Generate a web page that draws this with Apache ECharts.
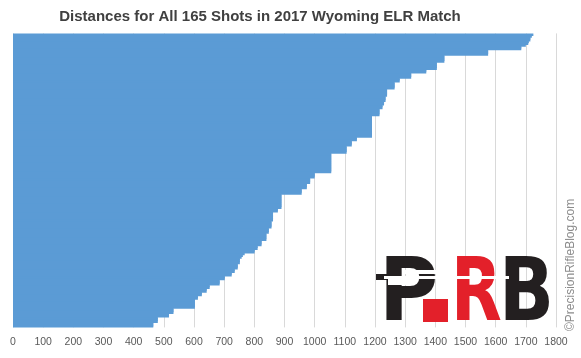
<!DOCTYPE html>
<html>
<head>
<meta charset="utf-8">
<script src="https://cdn.jsdelivr.net/npm/echarts@6/dist/echarts.min.js"></script>
<style>
html,body{margin:0;padding:0;background:#fff;}
#c{width:581px;height:358px;}
</style>
</head>
<body>
<div id="c"></div>
<script>
// Distances (yards) for each shot, listed top (longest) to bottom (shortest)
var distances = [
  1725,1720,1715,1715,1710,1708,1700,1685,1685,
  1575,1575,1575,
  1430,1430,1430,1430,
  1405,1405,1405,1405,
  1370,1370,
  1320,1320,1320,
  1282,1282,
  1265,1265,1265,1265,
  1240,1240,1240,1240,1235,1235,1235,1230,1230,1225,1225,
  1215,1215,1215,1215,
  1190,1190,1190,1190,1190,1190,1190,1190,1190,1190,1190,1190,
  1140,1140,
  1123,1123,1123,
  1106,1106,1106,1106,
  1055,1055,1055,1055,1055,1055,1055,1055,1055,1055,1055,
  1000,1000,1000,
  985,985,985,
  974,974,974,
  957,957,957,
  890,890,890,890,890,890,890,890,
  878,878,
  862,862,862,862,862,857,857,857,857,
  848,848,848,
  840,840,840,840,
  824,824,824,
  811,811,
  801,801,
  768,762,758,
  752,752,752,
  745,745,745,
  735,735,
  725,725,
  702,702,
  685,685,685,
  652,652,
  642,642,
  626,626,
  613,613,
  603,603,603,603,603,
  532,532,532,
  517,517,
  480,480,480,
  465,465,465
];
var shots = distances.map(function (_, i) { return 'Shot ' + (i + 1); });
var xTicks = [0,100,200,300,400,500,600,700,800,900,1000,1100,1200,1300,1400,1500,1600,1700,1800];
var titleText = 'Distances for All 165 Shots in 2017 Wyoming ELR Match';
var watermark = '\u00A9PrecisionRifleBlog.com';

var chart = echarts.init(document.getElementById('c'), null, {renderer: 'canvas'});
var font = "'Liberation Sans', sans-serif";
chart.setOption({
  animation: false,
  backgroundColor: '#ffffff',
  title: {
    text: titleText,
    left: 260,
    textAlign: 'center',
    top: 9,
    padding: 0,
    textStyle: {fontFamily: font, fontSize: 15, fontWeight: 'bold', color: '#404040'}
  },
  grid: {left: 13, right: 25, top: 33.4, bottom: 30.6, containLabel: false},
  xAxis: {
    type: 'value',
    min: xTicks[0],
    max: xTicks[xTicks.length - 1],
    interval: 100,
    axisLine: {show: false},
    axisTick: {show: false},
    splitLine: {show: true, lineStyle: {color: '#d9d9d9', width: 1}},
    axisLabel: {color: '#595959', fontSize: 10.5, fontFamily: font, margin: 9.5,
                formatter: function (v) { return String(v); }}
  },
  yAxis: {
    type: 'category',
    data: shots,
    inverse: true,
    axisLine: {show: false},
    axisTick: {show: false},
    axisLabel: {show: false},
    splitLine: {show: false}
  },
  series: [{
    type: 'bar',
    data: distances,
    barWidth: '200%',
    itemStyle: {color: '#5b9bd5'},
    z: 2
  }],
  graphic: [
    {type: 'text', x: 571, y: 331, rotation: Math.PI / 2,
     style: {text: watermark, fill: '#8c8c8c', font: "12px 'Liberation Sans', sans-serif", textAlign: 'left', textVerticalAlign: 'middle'}, z: 10},
    // PRB logo
    {type: 'text', x: 379, y: 297, scaleX: 0.92,
     style: {text: 'P', fill: '#231f20', font: "bold 88px 'DejaVu Sans', sans-serif", textAlign: 'left', textVerticalAlign: 'middle'}, z: 10},
    {type: 'rect', shape: {x: 423, y: 299, width: 25, height: 23}, style: {fill: '#e3202a'}, z: 10},
    {type: 'text', x: 451, y: 297, scaleX: 0.75,
     style: {text: 'R', fill: '#e3202a', font: "bold 88px 'DejaVu Sans', sans-serif", textAlign: 'left', textVerticalAlign: 'middle'}, z: 10},
    {type: 'text', x: 499, y: 297, scaleX: 0.82,
     style: {text: 'B', fill: '#231f20', font: "bold 88px 'DejaVu Sans', sans-serif", textAlign: 'left', textVerticalAlign: 'middle'}, z: 10},
    // rifle silhouette
    {type: 'rect', shape: {x: 376, y: 274, width: 14, height: 6}, style: {fill: '#231f20'}, z: 11},
    {type: 'rect', shape: {x: 384, y: 276, width: 125, height: 3}, style: {fill: '#ffffff'}, z: 11},
    {type: 'rect', shape: {x: 402, y: 270, width: 38, height: 4}, style: {fill: '#ffffff'}, z: 11},
    {type: 'rect', shape: {x: 388, y: 279, width: 20, height: 6}, style: {fill: '#ffffff'}, z: 11}
  ]
});
</script>
</body>
</html>
